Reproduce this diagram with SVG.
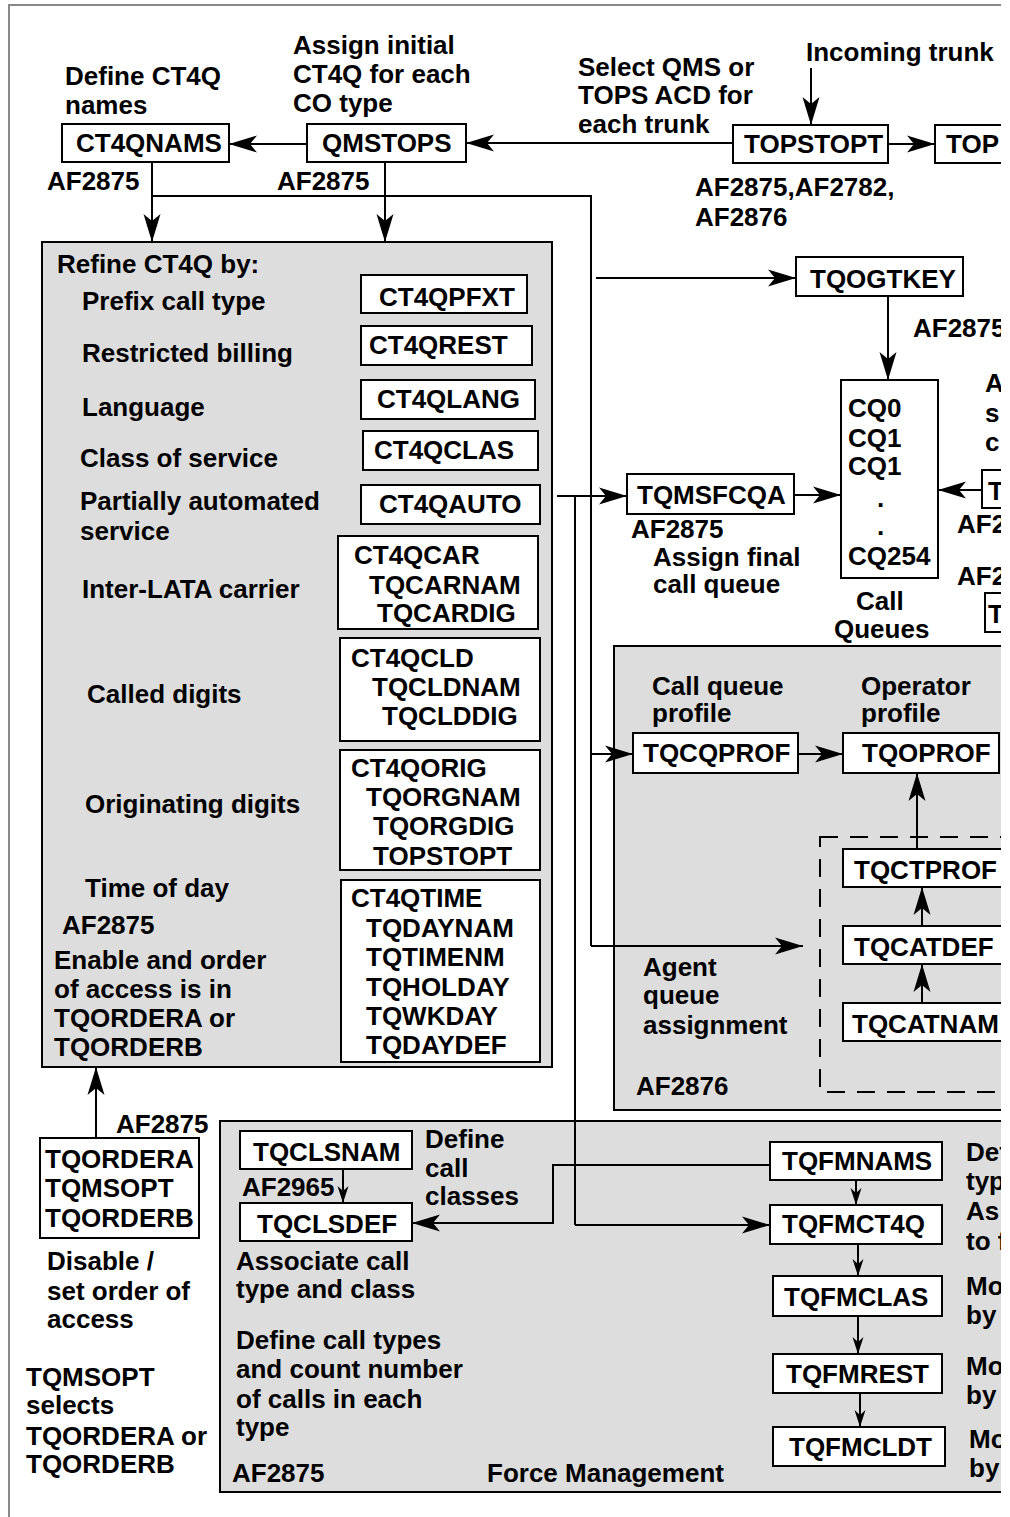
<svg xmlns="http://www.w3.org/2000/svg" width="1010" height="1517" viewBox="0 0 1010 1517">
<style>
.t{font-family:"Liberation Sans",Arial,Helvetica,sans-serif;font-weight:bold;font-size:26px;fill:#000}
.box{fill:#fff;stroke:#000;stroke-width:2}
.panel{fill:#dddddd;stroke:#000;stroke-width:2}
.ln{fill:none;stroke:#000;stroke-width:2}
.big{marker-end:url(#ah)}
.sm{marker-end:url(#ahs)}
.dash{fill:none;stroke:#000;stroke-width:2;stroke-dasharray:18 12}
.frame{fill:none;stroke:#888;stroke-width:2}
</style>
<defs>
<marker id="ah" viewBox="-30 -10 31 20" refX="0" refY="0" markerWidth="31" markerHeight="20" orient="auto" markerUnits="userSpaceOnUse">
<path d="M0,0 L-28,-8.5 L-21,0 L-28,8.5 Z" fill="#000"/>
</marker>
<marker id="ahs" viewBox="-18 -7 19 14" refX="0" refY="0" markerWidth="19" markerHeight="14" orient="auto" markerUnits="userSpaceOnUse">
<path d="M0,0 L-17,-5.5 L-12,0 L-17,5.5 Z" fill="#000"/>
</marker>
<clipPath id="clip"><rect x="0" y="0" width="1001" height="1517"/></clipPath>
</defs>
<rect x="0" y="0" width="1010" height="1517" fill="#fff"/>
<g clip-path="url(#clip)">
<path class="frame" d="M9,1517 V5 H1010"/>

<!-- panels -->
<g id="panel-refine"><rect class="panel" x="42" y="242" width="510" height="825"/></g>
<g id="panel-af2876"><rect class="panel" x="614" y="646" width="420" height="464"/>
<rect class="dash" x="820" y="837" width="230" height="255"/></g>
<g id="panel-force"><rect class="panel" x="220" y="1121" width="820" height="371"/></g>

<!-- connectors -->
<g id="connectors">
<path class="ln big" d="M811,68 V125"/>
<path class="ln big" d="M733,143 H466"/>
<path class="ln big" d="M307,144 H229"/>
<path class="ln big" d="M888,144 H935"/>
<path class="ln big" d="M152,162 V242"/>
<path class="ln big" d="M385,162 V242"/>
<path class="ln" d="M152,196 H591 V946"/>
<path class="ln big" d="M591,946 H803"/>
<path class="ln big" d="M596,278 H796"/>
<path class="ln big" d="M888,296 V380"/>
<path class="ln big" d="M557,496 H627"/>
<path class="ln big" d="M794,495 H841"/>
<path class="ln big" d="M982,490 H938"/>
<path class="ln" d="M575,496 V1225"/>
<path class="ln big" d="M575,1225 H770"/>
<path class="ln big" d="M591,754 H633"/>
<path class="ln big" d="M798,754 H843"/>
<path class="ln big" d="M917,849 V773"/>
<path class="ln big" d="M922,926 V887"/>
<path class="ln big" d="M922,1003 V964"/>
<path class="ln big" d="M96,1138 V1067"/>
<path class="ln sm" d="M343,1169 V1203"/>
<path class="ln big" d="M770,1165 H553 V1223 H412"/>
<path class="ln sm" d="M856,1180 V1205"/>
<path class="ln sm" d="M858,1244 V1276"/>
<path class="ln sm" d="M858,1316 V1354"/>
<path class="ln sm" d="M860,1393 V1427"/>
</g>

<!-- top nodes -->
<g id="n-ct4qnams"><rect class="box" x="62" y="124" width="167" height="38"/><text class="t" x="76" y="152">CT4QNAMS</text></g>
<g id="n-qmstops"><rect class="box" x="307" y="124" width="159" height="38"/><text class="t" x="322" y="152">QMSTOPS</text></g>
<g id="n-topstopt"><rect class="box" x="733" y="125" width="155" height="38"/><text class="t" x="744" y="153">TOPSTOPT</text></g>
<g id="n-tops"><rect class="box" x="935" y="125" width="100" height="38"/><text class="t" x="946" y="153">TOP</text></g>
<g id="n-tqogtkey"><rect class="box" x="796" y="257" width="167" height="39"/><text class="t" x="810" y="288">TQOGTKEY</text></g>
<g id="n-callqueues"><rect class="box" x="841" y="380" width="97" height="198"/>
<text class="t" x="848" y="417">CQ0</text><text class="t" x="848" y="447">CQ1</text><text class="t" x="848" y="475">CQ1</text>
<text class="t" x="877" y="507">.</text><text class="t" x="877" y="535">.</text><text class="t" x="848" y="565">CQ254</text>
<text class="t" x="856" y="610">Call</text><text class="t" x="834" y="638">Queues</text></g>
<g id="n-tqmsfcqa"><rect class="box" x="627" y="474" width="167" height="40"/><text class="t" x="637" y="504">TQMSFCQA</text></g>
<g id="n-right1"><rect class="box" x="982" y="470" width="60" height="38"/><text class="t" x="988" y="500">T</text></g>
<g id="n-right2"><rect class="box" x="985" y="593" width="60" height="39"/><text class="t" x="988" y="623">T</text></g>

<!-- top labels -->
<g id="labels-top">
<text class="t" x="65" y="85">Define CT4Q</text><text class="t" x="65" y="114">names</text>
<text class="t" x="293" y="54">Assign initial</text><text class="t" x="293" y="83">CT4Q for each</text><text class="t" x="293" y="112">CO type</text>
<text class="t" x="578" y="76">Select QMS or</text><text class="t" x="578" y="104">TOPS ACD for</text><text class="t" x="578" y="133">each trunk</text>
<text class="t" x="806" y="61">Incoming trunk</text>
<text class="t" x="47" y="190">AF2875</text><text class="t" x="277" y="190">AF2875</text>
<text class="t" x="695" y="196">AF2875,AF2782,</text><text class="t" x="695" y="226">AF2876</text>
<text class="t" x="913" y="337">AF2875</text>
<text class="t" x="985" y="392">A</text><text class="t" x="985" y="422">s</text><text class="t" x="985" y="451">c</text>
<text class="t" x="957" y="533">AF2</text><text class="t" x="957" y="585">AF2</text>
<text class="t" x="631" y="538">AF2875</text>
<text class="t" x="653" y="566">Assign final</text><text class="t" x="653" y="593">call queue</text>
</g>

<!-- refine panel content -->
<g id="labels-refine">
<text class="t" x="57" y="273">Refine CT4Q by:</text>
<text class="t" x="82" y="310">Prefix call type</text>
<text class="t" x="82" y="362">Restricted billing</text>
<text class="t" x="82" y="416">Language</text>
<text class="t" x="80" y="467">Class of service</text>
<text class="t" x="80" y="510">Partially automated</text><text class="t" x="80" y="540">service</text>
<text class="t" x="82" y="598">Inter-LATA carrier</text>
<text class="t" x="87" y="703">Called digits</text>
<text class="t" x="85" y="813">Originating digits</text>
<text class="t" x="85" y="897">Time of day</text>
<text class="t" x="62" y="934">AF2875</text>
<text class="t" x="54" y="969">Enable and order</text><text class="t" x="54" y="998">of access is in</text>
<text class="t" x="54" y="1027">TQORDERA or</text><text class="t" x="54" y="1056">TQORDERB</text>
</g>
<g id="n-ct4qpfxt"><rect class="box" x="361" y="275" width="166" height="38"/><text class="t" x="379" y="306">CT4QPFXT</text></g>
<g id="n-ct4qrest"><rect class="box" x="361" y="326" width="171" height="39"/><text class="t" x="369" y="354">CT4QREST</text></g>
<g id="n-ct4qlang"><rect class="box" x="361" y="380" width="174" height="39"/><text class="t" x="377" y="408">CT4QLANG</text></g>
<g id="n-ct4qclas"><rect class="box" x="363" y="431" width="175" height="39"/><text class="t" x="374" y="459">CT4QCLAS</text></g>
<g id="n-ct4qauto"><rect class="box" x="361" y="485" width="179" height="39"/><text class="t" x="379" y="513">CT4QAUTO</text></g>
<g id="n-ct4qcar"><rect class="box" x="338" y="536" width="200" height="93"/>
<text class="t" x="354" y="564">CT4QCAR</text><text class="t" x="369" y="594">TQCARNAM</text><text class="t" x="377" y="622">TQCARDIG</text></g>
<g id="n-ct4qcld"><rect class="box" x="340" y="638" width="200" height="103"/>
<text class="t" x="351" y="667">CT4QCLD</text><text class="t" x="372" y="696">TQCLDNAM</text><text class="t" x="382" y="725">TQCLDDIG</text></g>
<g id="n-ct4qorig"><rect class="box" x="340" y="750" width="200" height="120"/>
<text class="t" x="351" y="777">CT4QORIG</text><text class="t" x="366" y="806">TQORGNAM</text><text class="t" x="373" y="835">TQORGDIG</text><text class="t" x="373" y="865">TOPSTOPT</text></g>
<g id="n-ct4qtime"><rect class="box" x="341" y="880" width="199" height="182"/>
<text class="t" x="351" y="907">CT4QTIME</text><text class="t" x="366" y="937">TQDAYNAM</text><text class="t" x="366" y="966">TQTIMENM</text>
<text class="t" x="366" y="996">TQHOLDAY</text><text class="t" x="366" y="1025">TQWKDAY</text><text class="t" x="366" y="1054">TQDAYDEF</text></g>

<!-- AF2876 panel content -->
<g id="labels-af2876">
<text class="t" x="652" y="695">Call queue</text><text class="t" x="652" y="722">profile</text>
<text class="t" x="861" y="695">Operator</text><text class="t" x="861" y="722">profile</text>
<text class="t" x="643" y="976">Agent</text><text class="t" x="643" y="1004">queue</text><text class="t" x="643" y="1034">assignment</text>
<text class="t" x="636" y="1095">AF2876</text>
</g>
<g id="n-tqcqprof"><rect class="box" x="633" y="733" width="165" height="40"/><text class="t" x="643" y="762">TQCQPROF</text></g>
<g id="n-tqoprof"><rect class="box" x="843" y="733" width="156" height="40"/><text class="t" x="862" y="762">TQOPROF</text></g>
<g id="n-tqctprof"><rect class="box" x="843" y="849" width="200" height="38"/><text class="t" x="854" y="879">TQCTPROF</text></g>
<g id="n-tqcatdef"><rect class="box" x="843" y="926" width="200" height="38"/><text class="t" x="854" y="956">TQCATDEF</text></g>
<g id="n-tqcatnam"><rect class="box" x="843" y="1003" width="200" height="38"/><text class="t" x="852" y="1033">TQCATNAM</text></g>

<!-- bottom left -->
<g id="n-tqordera"><rect class="box" x="40" y="1138" width="159" height="100"/>
<text class="t" x="45" y="1168">TQORDERA</text><text class="t" x="45" y="1197">TQMSOPT</text><text class="t" x="45" y="1227">TQORDERB</text></g>
<g id="labels-bottomleft">
<text class="t" x="116" y="1133">AF2875</text>
<text class="t" x="47" y="1270">Disable /</text><text class="t" x="47" y="1300">set order of</text><text class="t" x="47" y="1328">access</text>
<text class="t" x="26" y="1386">TQMSOPT</text><text class="t" x="26" y="1414">selects</text><text class="t" x="26" y="1445">TQORDERA or</text><text class="t" x="26" y="1473">TQORDERB</text>
</g>

<!-- force management panel content -->
<g id="n-tqclsnam"><rect class="box" x="240" y="1131" width="172" height="38"/><text class="t" x="253" y="1161">TQCLSNAM</text></g>
<g id="n-tqclsdef"><rect class="box" x="240" y="1203" width="172" height="38"/><text class="t" x="257" y="1233">TQCLSDEF</text></g>
<g id="n-tqfmnams"><rect class="box" x="770" y="1142" width="172" height="38"/><text class="t" x="782" y="1170">TQFMNAMS</text></g>
<g id="n-tqfmct4q"><rect class="box" x="770" y="1205" width="172" height="39"/><text class="t" x="782" y="1233">TQFMCT4Q</text></g>
<g id="n-tqfmclas"><rect class="box" x="773" y="1276" width="169" height="40"/><text class="t" x="784" y="1306">TQFMCLAS</text></g>
<g id="n-tqfmrest"><rect class="box" x="773" y="1354" width="169" height="39"/><text class="t" x="786" y="1383">TQFMREST</text></g>
<g id="n-tqfmcldt"><rect class="box" x="773" y="1427" width="172" height="39"/><text class="t" x="789" y="1456">TQFMCLDT</text></g>
<g id="labels-force">
<text class="t" x="242" y="1196">AF2965</text>
<text class="t" x="425" y="1148">Define</text><text class="t" x="425" y="1177">call</text><text class="t" x="425" y="1205">classes</text>
<text class="t" x="236" y="1270">Associate call</text><text class="t" x="236" y="1298">type and class</text>
<text class="t" x="236" y="1349">Define call types</text><text class="t" x="236" y="1378">and count number</text>
<text class="t" x="236" y="1408">of calls in each</text><text class="t" x="236" y="1436">type</text>
<text class="t" x="232" y="1482">AF2875</text>
<text class="t" x="487" y="1482">Force Management</text>
<text class="t" x="966" y="1161">Def</text><text class="t" x="966" y="1190">typ</text>
<text class="t" x="966" y="1220">As</text><text class="t" x="966" y="1250">to f</text>
<text class="t" x="966" y="1295">Mo</text><text class="t" x="966" y="1324">by</text>
<text class="t" x="966" y="1375">Mo</text><text class="t" x="966" y="1404">by</text>
<text class="t" x="969" y="1448">Mo</text><text class="t" x="969" y="1477">by</text>
</g>
</g>
</svg>
